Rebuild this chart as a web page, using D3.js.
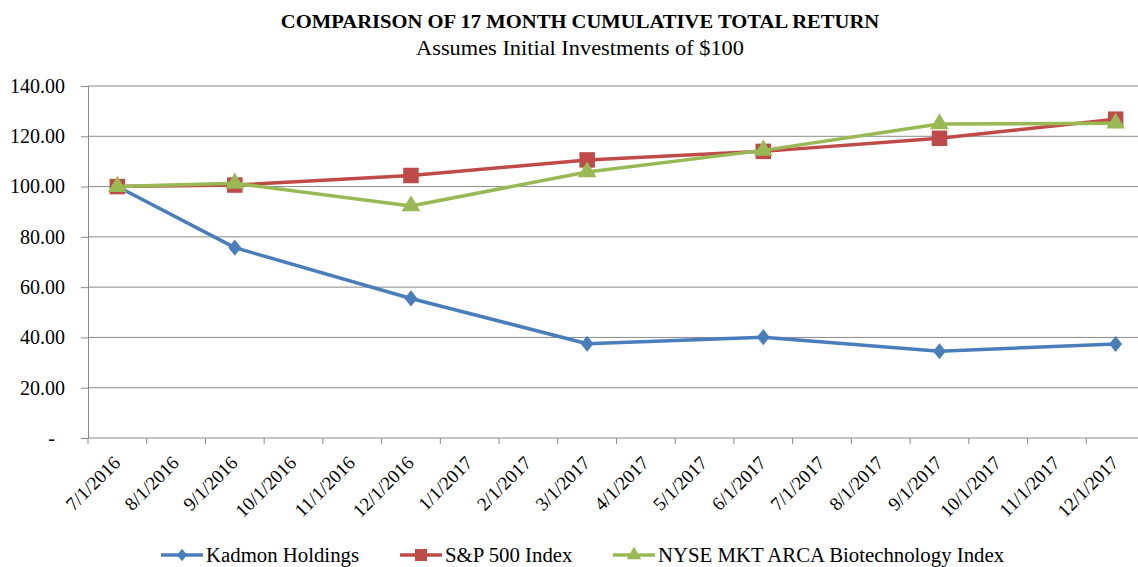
<!DOCTYPE html>
<html>
<head>
<meta charset="utf-8">
<script src="https://cdn.jsdelivr.net/npm/d3@7"></script>
<style>
  body { margin: 0; background: #fff; }
  svg { display: block; }
  svg text { font-family: "Liberation Serif", "Times New Roman", serif; fill: #000; }
</style>
</head>
<body>
<svg id="chart" width="1138" height="567"></svg>
<script>
// month labels on the date axis
const months = ['7/1/2016', '8/1/2016', '9/1/2016', '10/1/2016', '11/1/2016', '12/1/2016',
  '1/1/2017', '2/1/2017', '3/1/2017', '4/1/2017', '5/1/2017', '6/1/2017',
  '7/1/2017', '8/1/2017', '9/1/2017', '10/1/2017', '11/1/2017', '12/1/2017'];

// dates where values were measured
const dates = ['7/1/2016', '9/1/2016', '12/1/2016', '3/1/2017', '6/1/2017', '9/1/2017', '12/1/2017'];

const kadmon = [100.00, 75.7, 55.5, 37.5, 40.1, 34.5, 37.4];
const sp500 = [100.00, 100.6, 104.4, 110.6, 114.0, 119.2, 126.8];
const nyseBio = [100.00, 101.3, 92.3, 105.8, 114.4, 124.9, 125.2];

const yTicks = [0, 20, 40, 60, 80, 100, 120, 140];

const seriesNames = ['Kadmon Holdings', 'S&P 500 Index', 'NYSE MKT ARCA Biotechnology Index'];

const svg = d3.select('#chart');

const margin = { left: 88, top: 86, bottom: 438 };
const plotRight = 1145;

const x = d3.scaleBand()
  .domain(months)
  .range([margin.left, plotRight])
  .padding(0);

const y = d3.scaleLinear()
  .domain([0, 140])
  .range([margin.bottom, margin.top]);

const gridColor = '#8a8a8a';

// excel style diamond, a bit wider than d3's own
const excelDiamond = {
  draw(ctx, size) {
    const h = Math.sqrt(size) * 0.62, w = h * 0.8;
    ctx.moveTo(0, -h);
    ctx.lineTo(w, 0);
    ctx.lineTo(0, h);
    ctx.lineTo(-w, 0);
    ctx.closePath();
  }
};

// title
svg.append('text')
  .attr('transform', 'translate(580,28) scale(1.085,1)')
  .attr('text-anchor', 'middle')
  .style('font-size', '19px')
  .style('font-weight', 'bold')
  .text('COMPARISON OF 17 MONTH CUMULATIVE TOTAL RETURN');

svg.append('text')
  .attr('transform', 'translate(580,55) scale(1.065,1)')
  .attr('text-anchor', 'middle')
  .style('font-size', '21px')
  .text('Assumes Initial Investments of $100');

// horizontal grid lines
svg.append('g')
  .selectAll('line')
  .data(yTicks.filter(d => d > 0))
  .enter().append('line')
  .attr('x1', margin.left).attr('x2', plotRight)
  .attr('y1', d => y(d)).attr('y2', d => y(d))
  .attr('stroke', gridColor)
  .attr('stroke-width', 1);

// y axis
const yAxis = svg.append('g')
  .attr('transform', 'translate(' + margin.left + ',0)')
  .call(d3.axisLeft(y).tickValues(yTicks).tickSize(7).tickPadding(16)
    .tickFormat(d => d === 0 ? '-' : d3.format('.2f')(d)));
yAxis.select('.domain').attr('stroke', gridColor).attr('d', 'M0.5,' + y(140) + 'V' + y(0));
yAxis.selectAll('.tick line').attr('stroke', gridColor);
yAxis.selectAll('.tick text')
  .attr('fill', '#000')
  .attr('dx', d => d === 0 ? -10 : 0)
  .style('font-size', '20px');

// x axis: ticks at month boundaries, labels at month centres
const xg = svg.append('g');
xg.append('line')
  .attr('x1', margin.left).attr('x2', plotRight)
  .attr('y1', y(0)).attr('y2', y(0))
  .attr('stroke', gridColor);
xg.selectAll('line.tk')
  .data(months)
  .enter().append('line')
  .attr('class', 'tk')
  .attr('x1', d => x(d)).attr('x2', d => x(d))
  .attr('y1', y(0)).attr('y2', y(0) + 6)
  .attr('stroke', gridColor);
xg.selectAll('text')
  .data(months)
  .enter().append('text')
  .attr('transform', d => 'translate(' + (x(d) + x.bandwidth() / 2 + 4) + ',' + (y(0) + 26) + ') rotate(-45)')
  .attr('text-anchor', 'end')
  .style('font-size', '19px')
  .text(d => d);

// series
const series = [
  { name: seriesNames[0], values: kadmon, color: '#4a7ebb', symbol: excelDiamond, size: 170 },
  { name: seriesNames[1], values: sp500, color: '#be4b48', symbol: d3.symbolSquare, size: 240 },
  { name: seriesNames[2], values: nyseBio, color: '#98b954', symbol: d3.symbolTriangle, size: 150 }
];

const line = d3.line()
  .x((d, i) => x(dates[i]) + x.bandwidth() / 2)
  .y(d => y(d));

series.forEach(s => {
  const g = svg.append('g');
  g.append('path')
    .datum(s.values)
    .attr('d', line)
    .attr('fill', 'none')
    .attr('stroke', s.color)
    .attr('stroke-width', 3.5)
    .attr('stroke-linejoin', 'round');
  g.selectAll('path.pt')
    .data(s.values)
    .enter().append('path')
    .attr('class', 'pt')
    .attr('transform', (d, i) => 'translate(' + (x(dates[i]) + x.bandwidth() / 2) + ',' + y(d) + ')')
    .attr('d', d3.symbol().type(s.symbol).size(s.size))
    .attr('fill', s.color);
});

// legend
const legendX = [161, 400, 613];
const lg = svg.append('g');
series.forEach((s, i) => {
  const item = lg.append('g').attr('transform', 'translate(' + legendX[i] + ',555)');
  item.append('line')
    .attr('x1', 0).attr('x2', 42)
    .attr('stroke', s.color).attr('stroke-width', 3.5);
  item.append('path')
    .attr('transform', 'translate(21,0)')
    .attr('d', d3.symbol().type(s.symbol).size(s.size * 0.6))
    .attr('fill', s.color);
  item.append('text')
    .attr('transform', 'translate(45,7) scale(1.04,1)')
    .style('font-size', '20px')
    .text(s.name);
});
</script>
</body>
</html>
